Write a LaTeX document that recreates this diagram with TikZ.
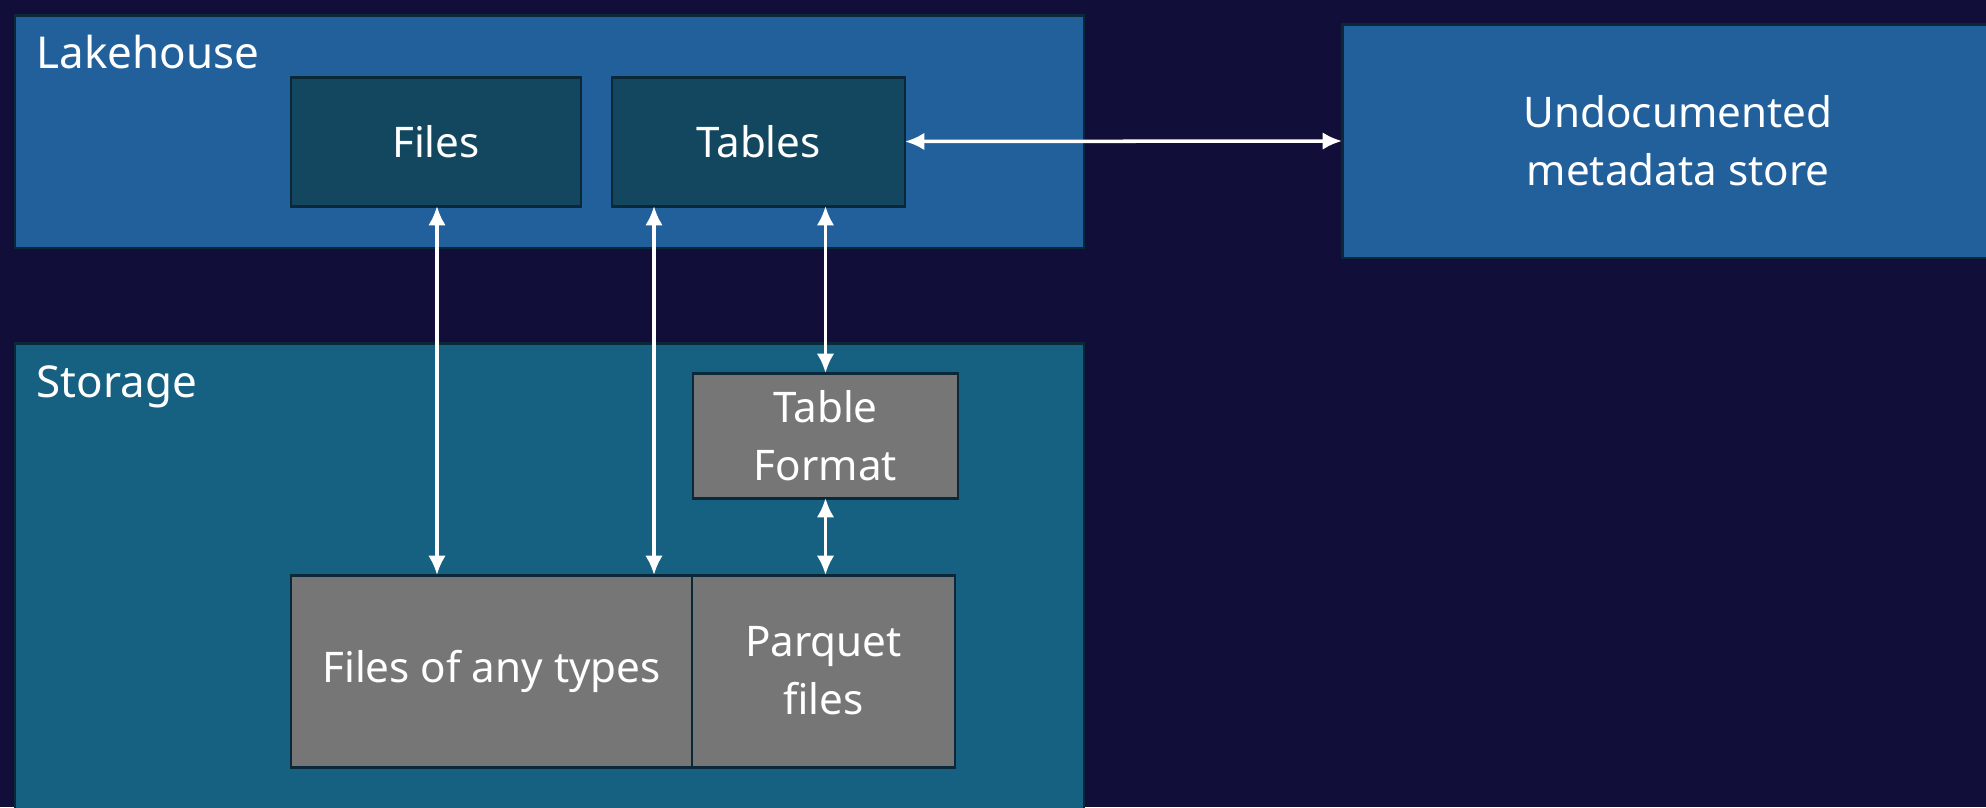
\documentclass[tikz,border=0pt]{standalone}
\usepackage{fontspec}
\setmainfont{Noto Sans}
\usetikzlibrary{positioning, calc, arrows.meta}
\definecolor{bgnavy}{HTML}{110F3A}
\definecolor{lakeblue}{HTML}{22609C}
\definecolor{storeblue}{HTML}{166082}
\definecolor{innerblue}{HTML}{12475F}
\definecolor{boxgray}{HTML}{767676}
\definecolor{edgeblue}{HTML}{0B2838}
\tikzset{
 box/.style={draw=edgeblue, line width=0.85pt, rectangle, inner sep=0pt, outer sep=0pt, text=white, align=center, font=\fontsize{12}{16.5}\selectfont},
 lakebox/.style={box, fill=lakeblue},
 storebox/.style={box, fill=storeblue},
 innerbox/.style={box, fill=innerblue},
 graybox/.style={box, fill=boxgray},
 title/.style={anchor=base west, inner sep=0pt, text=white, font=\fontsize{12.5}{15}\selectfont},
 arr/.style={white, line width=1pt, {Latex[length=5.5pt,width=5pt]}-{Latex[length=5.5pt,width=5pt]}}
}

\begin{document}
\begin{tikzpicture}[x=0.1mm, y=-0.1mm]
 \useasboundingbox (0,0) rectangle (1986,807);
 \clip (0,0) rectangle (1986,807);
 \fill[bgnavy] (0,0) rectangle (1986,807);

 % containers
 \node[lakebox, anchor=north west, minimum width=106.9mm, minimum height=23.3mm] (lake) at (15,15) {};
 \node[storebox, anchor=north west, minimum width=106.9mm, minimum height=48.7mm] (store) at (15,343) {};
 \node[title] at ($(lake.north west)+(21,53)$) {Lakehouse};
 \node[title] at ($(store.north west)+(21,54)$) {Storage};

 % lakehouse items
 \node[innerbox, anchor=north west, minimum width=29mm, minimum height=12.9mm] (files) at (291,77) {Files};
 \node[innerbox, anchor=north west, minimum width=29.3mm, minimum height=12.9mm] (tables) at (612,77) {Tables};
 \node[lakebox, anchor=north west, minimum width=67.2mm, minimum height=23.4mm] (meta) at (1342,24) {Undocumented\\metadata store};

 % storage items
 \node[graybox, anchor=north west, minimum width=26.5mm, minimum height=12.5mm] (fmt) at (693,373) {Table\\Format};
 \node[graybox, anchor=north west, minimum width=40.1mm, minimum height=19.2mm] (anyfiles) at (291,575) {Files of any types};
 \node[graybox, right=0pt of anyfiles, minimum width=26.3mm, minimum height=19.2mm] (parquet) {Parquet\\files};

 % links
 \draw[arr] (tables.east) -- (meta.west);
 \draw[arr] ([xshift=0.1mm]files.south) -- ([xshift=0.1mm]files.south |- anyfiles.north);
 \draw[arr] ([xshift=4.2mm]tables.south west) -- ([xshift=4.2mm]tables.south west |- anyfiles.north);
 \draw[arr] (fmt.north |- tables.south) -- (fmt.north);
 \draw[arr] (fmt.south) -- (fmt.south |- parquet.north);
\end{tikzpicture}
\end{document}
